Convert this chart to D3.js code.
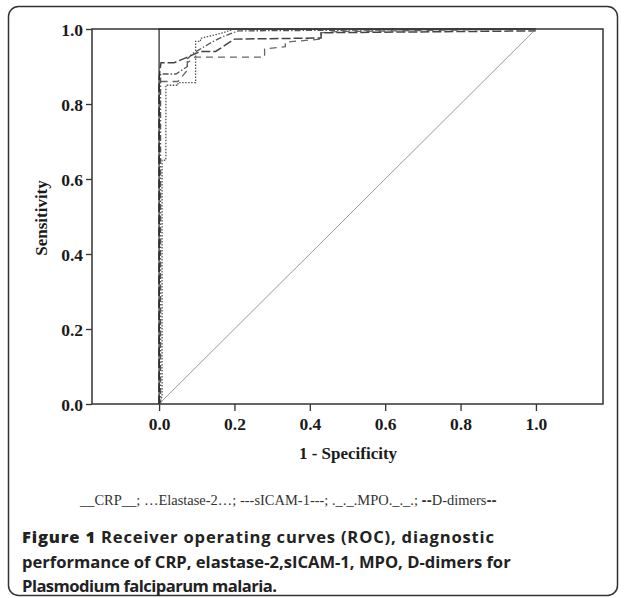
<!DOCTYPE html>
<html><head><meta charset="utf-8">
<script src="https://cdn.jsdelivr.net/npm/d3@7"></script>
<style>body{margin:0;background:#fff}</style>
</head><body>
<svg id="c" width="625" height="598"></svg>
<script>
// ---- data ----
const xTicks = [0, 0.2, 0.4, 0.6, 0.8, 1.0];
const yTicks = [0, 0.2, 0.4, 0.6, 0.8, 1.0];
const seriesNames = ["CRP", "Elastase-2", "sICAM-1", "MPO", "D-dimers"];
const crpFpr = [0, 0, 1];
const crpTpr = [0, 1, 1];
const elastaseFpr = [0, 0.008, 0.008, 0.018, 0.018, 0.05, 0.05, 0.097, 0.097, 0.11, 0.11, 0.17, 0.2, 1];
const elastaseTpr = [0, 0.02, 0.65, 0.65, 0.85, 0.85, 0.857, 0.857, 0.967, 0.967, 0.975, 0.99, 1, 1];
const sicamFpr = [0, 0, 0.05, 0.075, 0.075, 0.095, 0.28, 0.28, 0.335, 0.335, 0.43, 0.43, 0.47, 1];
const sicamTpr = [0, 0.86, 0.86, 0.89, 0.91, 0.925, 0.925, 0.947, 0.953, 0.965, 0.973, 0.99, 0.993, 1];
const mpoFpr = [0, 0.004, 0.004, 0.045, 0.075, 0.075, 0.09, 0.14, 0.17, 0.21, 1];
const mpoTpr = [0, 0, 0.88, 0.88, 0.9, 0.92, 0.935, 0.965, 0.98, 0.995, 1];
const ddimerFpr = [0, 0, 0.005, 0.04, 0.11, 0.15, 0.2, 0.43, 0.43, 1];
const ddimerTpr = [0, 0.87, 0.91, 0.91, 0.94, 0.94, 0.973, 0.976, 0.99, 0.995];
const refFpr = [0, 1];
const refTpr = [0, 1];

const svg = d3.select("#c");
// card
svg.append("rect").attr("x", 8.5).attr("y", 6.5).attr("width", 609).attr("height", 589)
  .attr("rx", 10).attr("fill", "#fff").attr("stroke", "#333").attr("stroke-width", 1.5);

const L = 92, R = 603, T = 29, B = 404;
const x = d3.scaleLinear().domain([-0.178, 1.178]).range([L, R]);
const y = d3.scaleLinear().domain([0, 1]).range([B, T]);

const g = svg.append("g");
g.append("rect").attr("x", L).attr("y", T).attr("width", R - L).attr("height", B - T)
  .attr("fill", "none").attr("stroke", "#333").attr("stroke-width", 1.5);

const xa = g.append("g").attr("transform", `translate(0,${B})`)
  .call(d3.axisBottom(x).tickValues(xTicks).tickFormat(d3.format(".1f")).tickSize(7).tickPadding(7));
const ya = g.append("g").attr("transform", `translate(${L},0)`)
  .call(d3.axisLeft(y).tickValues(yTicks).tickFormat(d3.format(".1f")).tickSize(6).tickPadding(3));
[xa, ya].forEach(a => {
  a.select(".domain").remove();
  a.selectAll("line").attr("stroke", "#333").attr("stroke-width", 1.3);
  a.selectAll("text").attr("font-family", "Liberation Serif, serif").attr("font-weight", "bold")
    .attr("font-size", 17.5).attr("fill", "#1a1a1a");
});
ya.selectAll("text").attr("dy", "0.35em");

const line = d3.line().x(d => x(d[0])).y(d => y(d[1]));
const zip = (a, b) => a.map((v, i) => [v, b[i]]);
const curves = [
  {fpr: refFpr, tpr: refTpr, stroke: "#999", w: 1, dash: null},
  {fpr: sicamFpr, tpr: sicamTpr, stroke: "#666", w: 1.3, dash: "7,5"},
  {fpr: elastaseFpr, tpr: elastaseTpr, stroke: "#555", w: 1.3, dash: "1.5,1.5"},
  {fpr: mpoFpr, tpr: mpoTpr, stroke: "#555", w: 1.3, dash: "6,2,1.5,2"},
  {fpr: ddimerFpr, tpr: ddimerTpr, stroke: "#444", w: 1.5, dash: "9,3"},
  {fpr: crpFpr, tpr: crpTpr, stroke: "#222", w: 1.2, dash: null},
];
curves.forEach(c => {
  g.append("path").attr("d", line(zip(c.fpr, c.tpr))).attr("fill", "none")
    .attr("stroke", c.stroke).attr("stroke-width", c.w).attr("stroke-dasharray", c.dash);
});

// axis titles
svg.append("text").attr("x", 348).attr("y", 459).attr("text-anchor", "middle")
  .attr("font-family", "Liberation Serif, serif").attr("font-weight", "bold").attr("font-size", 17)
  .attr("fill", "#1a1a1a").text("1 - Specificity");
svg.append("text").attr("transform", "translate(47,218) rotate(-90)").attr("text-anchor", "middle")
  .attr("font-family", "Liberation Serif, serif").attr("font-weight", "bold").attr("font-size", 17)
  .attr("fill", "#1a1a1a").text("Sensitivity");

// legend line
const leg = svg.append("text").attr("x", 80).attr("y", 505)
  .attr("font-family", "Liberation Serif, serif").attr("font-size", 13).attr("fill", "#333");
leg.append("tspan").text("__" + seriesNames[0] + "__; …" + seriesNames[1] + "…; ---" + seriesNames[2] + "---; ._._." + seriesNames[3] + "._._.; ");
leg.append("tspan").attr("font-weight", "bold").attr("font-family", "DejaVu Sans, sans-serif").attr("font-size", "0.85em").text("--");
leg.append("tspan").text(seriesNames[4]);
leg.append("tspan").attr("font-weight", "bold").attr("font-family", "DejaVu Sans, sans-serif").attr("font-size", "0.85em").text("--");
const lw = leg.node().getComputedTextLength();
leg.attr("font-size", 13 * 417 / lw);

// caption
const capLines = [
  [["Figure 1", "800"], [" Receiver operating curves (ROC), diagnostic", "bold"]],
  [["performance of CRP, elastase-2,sICAM-1, MPO, D-dimers for", "bold"]],
  [["Plasmodium falciparum malaria.", "bold"]],
];
const capY = [543, 568, 592];
const capW = [472, null, 255];
const capTexts = capLines.map((ln, i) => {
  const t = svg.append("text").attr("x", 22).attr("y", capY[i])
    .attr("font-family", "Open Sans, sans-serif").attr("font-size", 17).attr("fill", "#222");
  ln.forEach(([s, w]) => t.append("tspan").attr("font-weight", w).text(s));
  return t;
});
const w2 = capTexts[1].node().getComputedTextLength();
const fs = 17 * 489 / w2;
capTexts.forEach((t, i) => {
  t.attr("font-size", fs);
  if (capW[i]) t.attr("textLength", capW[i]).attr("lengthAdjust", "spacing");
});
</script>
</body></html>
